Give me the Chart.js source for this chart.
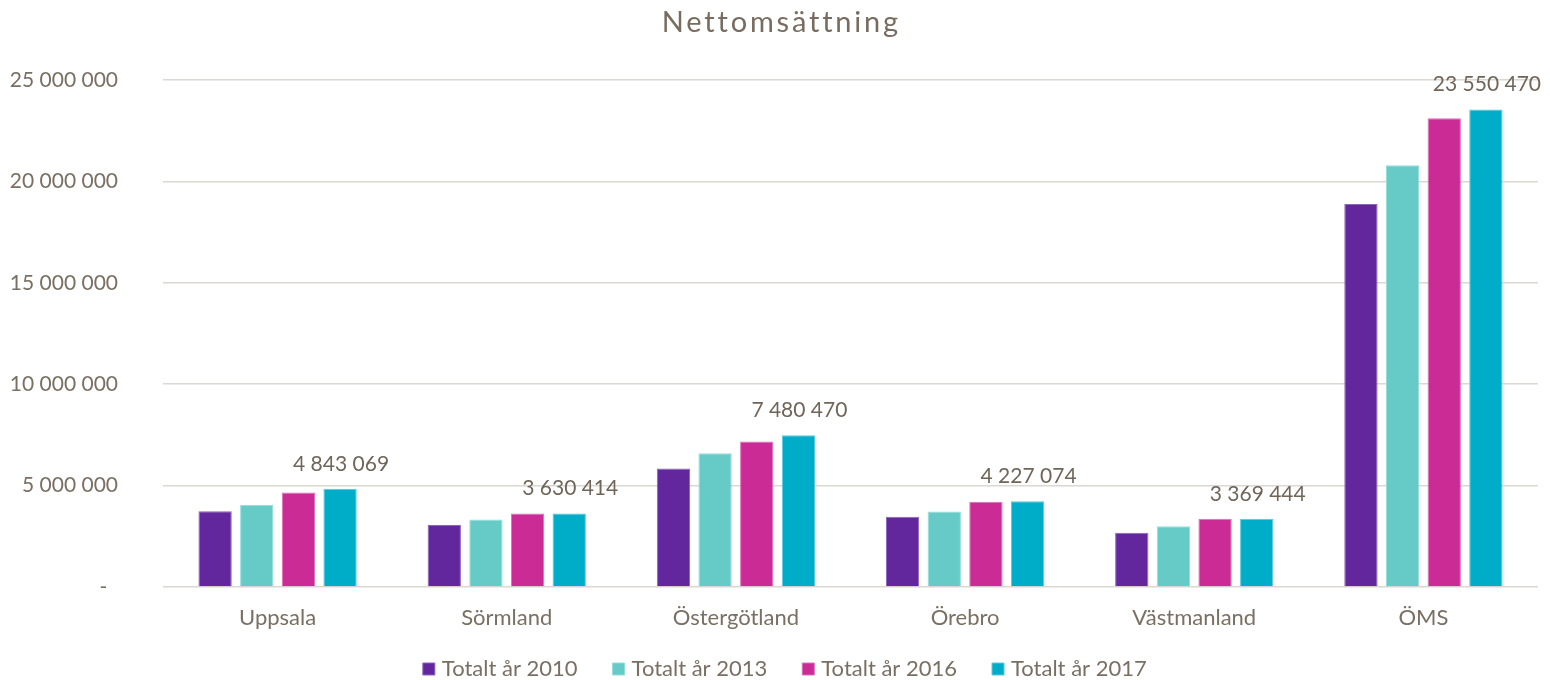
<!DOCTYPE html>
<html lang="sv">
<head>
<meta charset="utf-8">
<title>Nettomsättning</title>
<script src="https://cdn.jsdelivr.net/npm/chart.js@4.4.1/dist/chart.umd.min.js"></script>
<style>
    html, body { margin: 0; padding: 0; background: #ffffff; }
    #wrap { width: 1550px; height: 680px; }
</style>
</head>
<body>
<div id="wrap">
    <canvas id="grafico" width="1550" height="680"></canvas>
</div>
<script>
// ===========================
// Data
// ===========================
const rubrik = 'Nettomsättning';

const categorias = ['Uppsala', 'Sörmland', 'Östergötland', 'Örebro', 'Västmanland', 'ÖMS'];

const totalt2010 = [3730000, 3060000, 5840000, 3470000, 2680000, 18890000];
const totalt2013 = [4050000, 3330000, 6600000, 3720000, 2990000, 20800000];
const totalt2016 = [4660000, 3620000, 7170000, 4200000, 3370000, 23120000];
const totalt2017 = [4843069, 3630414, 7480470, 4227074, 3369444, 23550470];

const serieNamn = ['Totalt år 2010', 'Totalt år 2013', 'Totalt år 2016', 'Totalt år 2017'];

const yMin = 0;
const yMax = 25000000;
const yStep = 5000000;

// ===========================
// Helpers
// ===========================
const FONT = 'Lato, "Open Sans", sans-serif';
const TEXT_COLOR = '#7a6f63';

function formatNum(v) {
    return String(Math.round(v)).replace(/\B(?=(\d{3})+(?!\d))/g, ' ');
}

// title (wide letter spacing like the original) + labels on the 2017 bars
const etiketter = {
    id: 'etiketter',
    afterDatasetsDraw(chart) {
        const ctx = chart.ctx;
        const idx = chart.data.datasets.length - 1;
        const meta = chart.getDatasetMeta(idx);
        const data = chart.data.datasets[idx].data;
        ctx.save();
        ctx.font = '21px ' + FONT;
        ctx.fillStyle = '#6f6559';
        ctx.textAlign = 'center';
        ctx.textBaseline = 'alphabetic';
        meta.data.forEach((bar, i) => {
            ctx.fillText(formatNum(data[i]), bar.x + 1, bar.y - 18);
        });
        ctx.restore();
    },
    afterDraw(chart) {
        const ctx = chart.ctx;
        const ls = 2.8;
        ctx.save();
        ctx.font = '29px ' + FONT;
        ctx.fillStyle = '#786c60';
        ctx.textAlign = 'center';
        ctx.textBaseline = 'alphabetic';
        ctx.letterSpacing = ls + 'px';
        ctx.fillText(rubrik, 780 + ls / 2, 32);
        ctx.restore();
    }
};

// ===========================
// Chart
// ===========================
const ctx = document.getElementById('grafico').getContext('2d');

new Chart(ctx, {
    type: 'bar',
    data: {
        labels: categorias,
        datasets: [
            { label: serieNamn[0], data: totalt2010, backgroundColor: '#62279c', borderColor: '#8d63bb' },
            { label: serieNamn[1], data: totalt2013, backgroundColor: '#66cbc7', borderColor: '#93dcd9' },
            { label: serieNamn[2], data: totalt2016, backgroundColor: '#ca2b95', borderColor: '#dc6fb7' },
            { label: serieNamn[3], data: totalt2017, backgroundColor: '#00adc8', borderColor: '#55c9db' }
        ]
    },
    options: {
        responsive: false,
        animation: false,
        layout: {
            padding: { left: 0, right: -23.6, top: 80, bottom: -10 }
        },
        datasets: {
            bar: {
                categoryPercentage: 0.727,
                barPercentage: 0.8,
                borderWidth: 1
            }
        },
        plugins: {
            title: { display: false },
            legend: {
                position: 'bottom',
                labels: {
                    color: TEXT_COLOR,
                    font: { family: FONT, size: 22 },
                    usePointStyle: true,
                    pointStyle: 'rect',
                    boxWidth: 4,
                    boxHeight: 12,
                    padding: 39
                }
            },
            tooltip: { enabled: false }
        },
        scales: {
            x: {
                grid: { display: false, drawTicks: false },
                border: { display: false },
                ticks: {
                    color: TEXT_COLOR,
                    font: { family: FONT, size: 22 },
                    mirror: true,
                    padding: -44
                },
                afterFit(scale) {
                    scale.height = 32;
                }
            },
            y: {
                min: yMin,
                max: yMax,
                grid: {
                    color: '#dbd7d2',
                    lineWidth: 1.5,
                    drawTicks: false
                },
                border: { display: false },
                ticks: {
                    stepSize: yStep,
                    color: TEXT_COLOR,
                    font: { family: FONT, size: 21 },
                    padding: 45,
                    callback: (v) => v === 0 ? '-  ' : formatNum(v)
                },
                afterFit(scale) {
                    scale.width = 163;
                }
            },
            // empty right-hand spacer so the legend sits where the original has it
            hoger: {
                type: 'linear',
                position: 'right',
                grid: { display: false, drawTicks: false },
                border: { display: false },
                ticks: { display: false },
                afterFit(scale) {
                    scale.width = 35.6;
                }
            }
        }
    },
    plugins: [etiketter]
});
</script>
</body>
</html>
